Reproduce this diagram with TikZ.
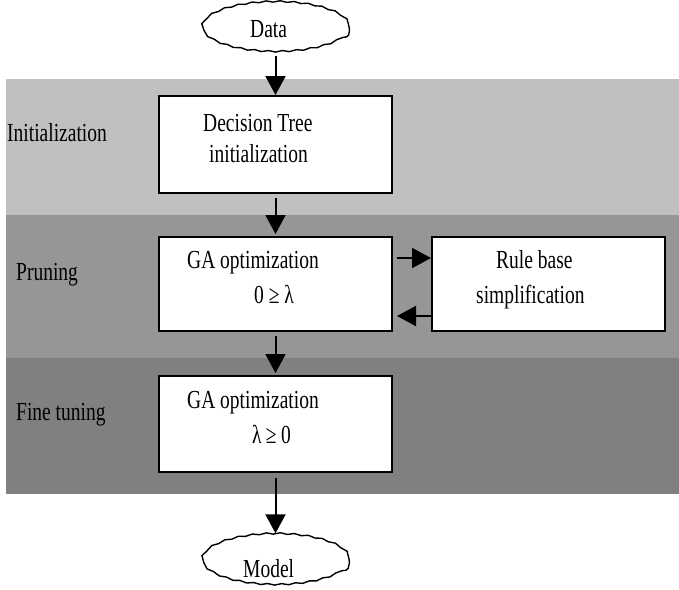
\documentclass[tikz,border=0pt]{standalone}
\usepackage{fontspec}
\setmainfont[FakeStretch=0.75]{Liberation Serif}
\usetikzlibrary{arrows.meta,shapes.geometric,decorations.pathmorphing,calc}

\begin{document}
\begin{tikzpicture}[x=1pt,y=-1pt,
  box/.style={draw=black, line width=2pt, fill=white, minimum width=233pt, inner sep=0pt},
  cloud/.style={ellipse, draw=black, line width=1.4pt, fill=white, decorate,
    decoration={snake, segment length=14pt, amplitude=0.7pt}, inner sep=0pt},
  lbl/.style={anchor=base west, inner sep=0pt, font=\fontsize{26}{30}\selectfont},
  arr/.style={line width=2pt, -{Triangle[length=19pt,width=20pt]}},
]
\useasboundingbox (0,0) rectangle (679,589);

% stage bands
\fill[fill={rgb,255:red,192;green,192;blue,192}] (6,79) rectangle (679,215);
\fill[fill={rgb,255:red,150;green,150;blue,150}] (6,215) rectangle (679,358);
\fill[fill={rgb,255:red,128;green,128;blue,128}] (6,358) rectangle (679,494);

% stage names
\node[lbl] (sInit) at (7,141) {Initialization};
\node[lbl] (sPrune) at (16,280) {Pruning};
\node[lbl] (sFine) at (16,420) {Fine tuning};

% flow nodes
\node[cloud, minimum width=147pt, minimum height=50pt] (data) at (276,30) {};
\node[lbl] (dataT) at (250,37) {Data};

\node[box, minimum height=97pt] (dt) at (275.5,144.5) {};
\node[lbl] (dt1) at (203,131) {Decision Tree};
\node[lbl] (dt2) at (209,162) {initialization};

\node[box, minimum height=94pt] (ga1) at (275.5,284) {};
\node[lbl] (ga1a) at (187,268) {GA optimization};
\node[lbl] (ga1b) at (254,303) {0 ≥ λ};

\node[box, minimum height=94pt] (rb) at (548.5,284) {};
\node[lbl] (rba) at (496,268) {Rule base};
\node[lbl] (rbb) at (476,303) {simplification};

\node[box, minimum height=96pt] (ga2) at (275.5,424) {};
\node[lbl] (ga2a) at (187,408) {GA optimization};
\node[lbl] (ga2b) at (252,443) {λ\,≥\,0};

\node[cloud, minimum width=147pt, minimum height=51pt] (model) at (276,562.5) {};
\node[lbl] (modelT) at (243,577) {Model};

% connectors
\draw[arr] (dt.north |- data.south) -- (dt.north);
\draw[arr, shorten <=4pt, shorten >=2pt] (dt.south) -- (ga1.north);
\draw[arr, shorten <=4pt, shorten >=2pt] (ga1.south) -- (ga2.north);
\draw[arr, shorten <=5pt, shorten >=3pt] (ga2.south) -- (model.north -| ga2.south);
\draw[arr] ($(ga1.east)+(4,-26)$) -- ($(rb.west)+(0,-26)$);
\draw[arr] ($(rb.west)+(0,32)$) -- ($(ga1.east)+(4,32)$);
\end{tikzpicture}
\end{document}
